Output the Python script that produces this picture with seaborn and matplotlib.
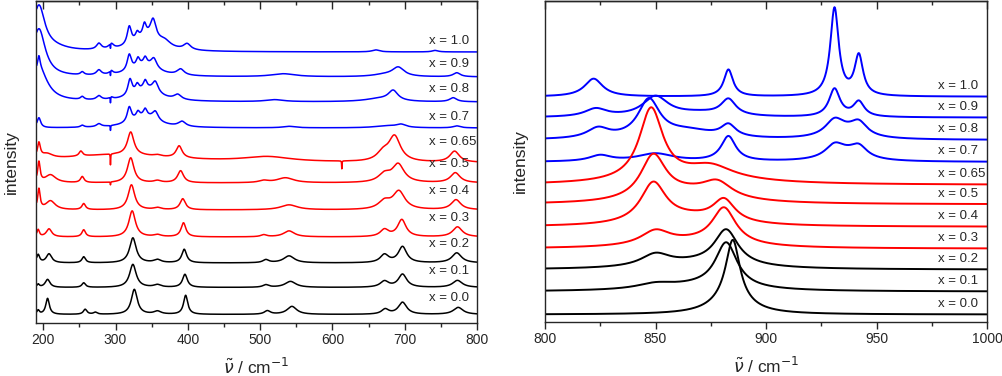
import numpy as np
import pandas as pd
import matplotlib
matplotlib.use("Agg")
import matplotlib.pyplot as plt
from matplotlib.ticker import MultipleLocator, NullFormatter
import seaborn as sns

# composition labels and line colours (black / red / blue groups)
compositions = ['0.0', '0.1', '0.2', '0.3', '0.4', '0.5', '0.65', '0.7', '0.8', '0.9', '1.0']
group_colors = ['black'] * 3 + ['red'] * 4 + ['blue'] * 4

# vertical offsets of the stacked spectra
left_offsets = [8.5, 35.5, 60, 86, 113, 140, 160, 195, 221, 246, 271]
right_offsets = [7.5, 30.5, 52.5, 73.5, 95.5, 118, 137.5, 160.5, 182.5, 205, 226]

# Raman bands: (position / cm-1, height, half width)
left_x00 = [(193, 4, 2), (206, 16, 3), (258, 5, 3), (272, 2, 3), (326, 25, 5), (358, 3, 6),
            (397, 19, 3.5), (510, 3.5, 5), (544, 8, 8), (673, 5, 6), (697, 12, 7), (774, 7, 8)]
left_x01 = [(193, 3, 2), (206, 8, 4), (256, 4.5, 3), (324, 23, 5.5), (358, 2.5, 6), (396, 13, 4),
            (508, 2.5, 5), (542, 6, 9), (672, 6, 7), (697, 13, 7), (773, 7, 8)]
left_x02 = [(193, 8, 2.5), (208, 9, 4.5), (256, 6, 3), (324, 25, 5.5), (358, 3, 6), (395, 13.5, 4),
            (508, 3, 5), (540, 7, 9), (672, 8, 7), (697, 16, 7), (772, 10, 8)]
left_x03 = [(193, 7, 2), (208, 8, 4.5), (256, 7, 3), (323, 26, 5.5), (358, 2, 6), (394, 14, 4),
            (505, 2, 5), (540, 6, 9), (672, 7, 7), (696, 17, 7), (773, 10, 8)]
left_x04 = [(194, 20, 2), (210, 9, 8), (256, 6, 3), (322, 25, 5.5), (358, 2, 6), (393, 11, 4.5),
            (540, 5, 14), (672, 8, 10), (692, 18, 10), (771, 10, 8)]
left_x05 = [(194, 20, 2), (210, 8, 9), (254, 6, 3), (321, 25, 5.5), (358, 2, 6), (390, 12, 5),
            (505, 2, 8), (535, 5, 14), (672, 8, 10), (691, 18, 10), (770, 10, 8), (293, -3, 0.3)]
left_x065 = [(194, 15, 2.5), (205, 5, 10), (252, 5, 3), (321, 23, 5.5), (358, 1.5, 6), (388, 12, 5),
             (300, 8, 100), (510, 5, 40), (670, 8, 10), (686, 25, 10), (769, 11, 8),
             (293, -11, 0.3), (613, -8, 0.3)]
left_x07 = [(194, 10, 3), (254, 2, 3), (277, 3, 4), (319, 15, 3.5), (331, 6, 3), (341, 7, 3),
            (355, 9, 5), (340, 11, 22), (392, 5, 6), (540, 1.5, 10), (695, 3, 8), (675, 2, 20),
            (772, 2, 6), (293, -5, 0.3)]
left_x08 = [(194, 34, 14), (194, 12, 2), (254, 3, 3), (277, 4, 4), (294, 2, 3), (320, 16, 3.5),
            (330, 7, 3), (341, 8, 3), (355, 11, 5), (342, 12, 22), (386, 5, 6), (520, 2, 15),
            (684, 10, 8), (665, 3, 25), (767, 4, 6), (293, -6, 0.3)]
left_x09 = [(194, 48, 10.7), (254, 3, 3), (277, 5, 4), (294, 3.5, 3), (319, 16, 3.5), (331, 8, 3),
            (341, 7, 3), (353, 10, 5), (340, 11, 22), (390, 6, 6), (532, 3, 20), (691, 9, 10),
            (672, 2, 20), (772, 4, 6), (293, -5, 0.3)]
left_x10 = [(194, 45, 10), (215, 3, 25), (277, 6, 4), (294, 5, 4), (319, 18, 3.5), (330, 7, 3),
            (340, 12, 3), (352, 20, 5), (342, 13, 22), (368, 6, 10), (399, 6, 6), (660, 2, 6),
            (742, 1.5, 5), (293, -5, 0.3)]

right_x00 = [(885, 60, 3.8), (884, 15, 10)]
right_x01 = [(882, 45, 6), (850, 5, 10), (870, 5, 25)]
right_x02 = [(882, 35, 6.5), (850, 12, 8), (870, 6, 25)]
right_x03 = [(881, 36, 6.5), (850, 14, 8), (868, 6, 25)]
right_x04 = [(881, 22, 6), (849, 40, 7), (866, 8, 20)]
right_x05 = [(849, 44, 7), (878, 15, 8), (866, 10, 20)]
right_x065 = [(848, 72, 6.5), (875, 12, 12), (870, 6, 30)]
right_x07 = [(825, 6, 6), (850, 8, 10), (883, 25, 4), (931, 12, 5), (942, 11, 4.5), (936, 7, 10)]
right_x08 = [(824, 10, 6), (847, 38, 6), (865, 8, 15), (883, 12, 4), (931, 15, 5), (942, 13, 4.5),
             (936, 6, 10)]
right_x09 = [(823, 8, 6), (850, 20, 7), (870, 4, 15), (883, 16, 4), (931, 28, 3), (942, 15, 3)]
right_x10 = [(822, 18, 5), (883, 27, 2.5), (931, 88, 2.3), (942, 40, 2.3)]

left_bands = [left_x00, left_x01, left_x02, left_x03, left_x04, left_x05, left_x065,
              left_x07, left_x08, left_x09, left_x10]
right_bands = [right_x00, right_x01, right_x02, right_x03, right_x04, right_x05, right_x065,
               right_x07, right_x08, right_x09, right_x10]


def spectrum(nu, bands, offset):
    y = np.full_like(nu, offset, dtype=float)
    for pos, h, w in bands:
        y += h * w ** 2 / (w ** 2 + (nu - pos) ** 2)
    return y


def build_frame(nu, bands_list, offsets):
    frames = []
    for comp, bands, off in zip(compositions, bands_list, offsets):
        frames.append(pd.DataFrame({'nu': nu, 'intensity': spectrum(nu, bands, off), 'x': comp}))
    return pd.concat(frames, ignore_index=True)


nu_left = np.arange(191, 800.01, 0.2)
nu_right = np.arange(800, 1000.01, 0.2)
df_left = build_frame(nu_left, left_bands, left_offsets)
df_right = build_frame(nu_right, right_bands, right_offsets)

sns.set_style('ticks')
plt.rcParams['font.family'] = ['Liberation Sans', 'DejaVu Sans']
plt.rcParams['mathtext.fontset'] = 'dejavusans'

palette = dict(zip(compositions, group_colors))
fig = plt.figure(figsize=(10.03, 3.76), dpi=100)
ax1 = fig.add_axes([36 / 1003, 53 / 376, 441 / 1003, 322 / 376])
ax2 = fig.add_axes([545 / 1003, 54 / 376, 442 / 1003, 321 / 376])

panels = [
    (ax1, df_left, (190, 800), 100, 50, 1.1, 734),
    (ax2, df_right, (800, 1000), 50, 25, 1.4, 978),
]

for ax, df, xlim, major, minor, lw, text_x in panels:
    sns.lineplot(data=df, x='nu', y='intensity', hue='x', hue_order=compositions[::-1],
                 palette=palette, estimator=None, sort=False, legend=False, lw=lw, ax=ax)
    ax.set_xlim(*xlim)
    ax.set_ylim(0, 322)
    ax.set_yticks([])
    ax.xaxis.set_major_locator(MultipleLocator(major))
    ax.xaxis.set_minor_locator(MultipleLocator(minor))
    ax.tick_params(axis='x', which='major', direction='out', length=5, width=1, labelsize=10, pad=2)
    ax.tick_params(axis='x', which='minor', direction='out', length=3, width=1)
    top = ax.secondary_xaxis('top')
    top.xaxis.set_major_locator(MultipleLocator(major))
    top.xaxis.set_minor_locator(MultipleLocator(minor))
    top.xaxis.set_major_formatter(NullFormatter())
    top.tick_params(axis='x', which='major', direction='in', length=6, width=1)
    top.tick_params(axis='x', which='minor', direction='in', length=3, width=1)
    for sp in list(ax.spines.values()) + list(top.spines.values()):
        sp.set_linewidth(1)
    ax.set_xlabel(r'$\tilde{\nu}$ / cm$^{-1}$', fontsize=12.5, labelpad=7)
    ax.set_ylabel('intensity', fontsize=12.5, labelpad=12)

    for comp in compositions:
        sub = df[df['x'] == comp]
        if ax is ax1:
            win = sub[(sub['nu'] > 730) & (sub['nu'] < 800)]
            ty = win['intensity'].max() + 9
        else:
            ty = sub['intensity'].iloc[-1] + 10.5
        ax.text(text_x, ty, f'x = {comp}', fontsize=9.5, ha='left', va='center')

fig.savefig('out.png', dpi=100)
